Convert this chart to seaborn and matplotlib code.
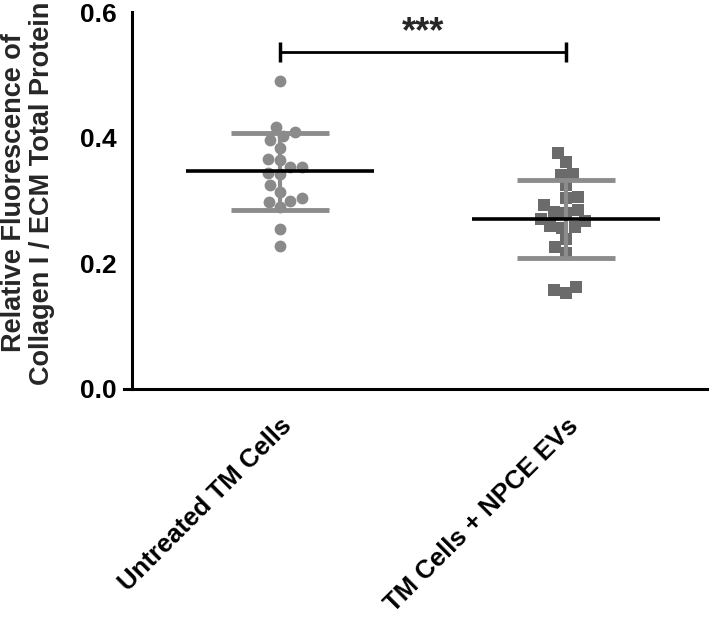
import numpy as np
import pandas as pd
import matplotlib
matplotlib.use("Agg")
import matplotlib.pyplot as plt
import seaborn as sns

categories = ["Untreated TM Cells", "TM Cells + NPCE EVs"]
untreated = [0.490, 0.417, 0.409, 0.402, 0.396, 0.384, 0.364, 0.366, 0.353, 0.353,
             0.343, 0.342, 0.324, 0.313, 0.304, 0.297, 0.299, 0.289, 0.255, 0.228]
treated = [0.375, 0.361, 0.342, 0.341, 0.324, 0.306, 0.304, 0.293, 0.285, 0.280,
           0.281, 0.271, 0.268, 0.259, 0.256, 0.258, 0.238, 0.226, 0.216, 0.162,
           0.152, 0.158]
yticks = [0.0, 0.2, 0.4, 0.6]
ylabel = "Relative Fluorescence of\nCollagen I / ECM Total Protein"
sig_label = "***"

sns.set_style("white")
plt.rcParams['font.family'] = ['Liberation Sans', 'DejaVu Sans']
plt.rcParams['font.weight'] = 'bold'

df = pd.DataFrame({
    "group": [categories[0]] * len(untreated) + [categories[1]] * len(treated),
    "value": untreated + treated,
})

fig = plt.figure(figsize=(7.09, 6.28), dpi=100)
ax = fig.add_axes([124 / 709, (628 - 389) / 628, 1 - 124 / 709, (389 - 12) / 628])

sns.swarmplot(data=df[df.group == categories[0]], x="group", y="value", order=categories,
              marker="o", color="#8a8a8a", size=8.5, ax=ax, zorder=2)
sns.swarmplot(data=df[df.group == categories[1]], x="group", y="value", order=categories,
              marker="s", color="#6b6b6b", size=8.5, ax=ax, zorder=2)

for i, vals in enumerate([untreated, treated]):
    m = np.mean(vals)
    s = np.std(vals, ddof=1)
    ax.vlines(i, m - s, m + s, color="#8c8c8c", lw=3, zorder=3)
    ax.hlines([m - s, m + s], i - 0.17, i + 0.17, color="#8c8c8c", lw=3.5, zorder=3)
    ax.hlines(m, i - 0.33, i + 0.33, color="black", lw=2.6, zorder=4)

# significance bracket
yb = 0.537
ax.plot([0, 1], [yb, yb], color="black", lw=2, clip_on=False)
ax.vlines([0, 1], yb - 0.016, yb + 0.016, color="black", lw=2.5, clip_on=False)
ax.text(0.5, yb + 0.002, sig_label, ha="center", va="bottom", fontsize=26, fontweight="bold")

ax.set_xlim(-0.545, 1.5)
ax.set_ylim(0, 0.6)
ax.set_yticks(yticks)
ax.set_yticklabels([f"{t:.1f}" for t in yticks])
ax.set_xticks([0, 1])
ax.set_xticklabels(categories, rotation=45, ha="right", rotation_mode="anchor")
ax.set_xlabel("")
ax.set_ylabel(ylabel, fontsize=19.5, fontweight="bold", linespacing=1.1)
ax.yaxis.set_label_coords(-0.118, 0.52)

for side in ["top", "right"]:
    ax.spines[side].set_visible(False)
ax.spines["left"].set_position(("data", -0.517))
ax.spines["left"].set_linewidth(2.2)
ax.spines["bottom"].set_linewidth(2.2)
ax.spines["left"].set_color("black")
ax.spines["bottom"].set_color("black")
ax.tick_params(axis="y", direction="out", length=7, width=2.2, colors="black", pad=4,
               labelsize=19)
ax.tick_params(axis="x", direction="out", length=8, width=2.2, colors="black", pad=10,
               labelsize=18.5)
for lab in ax.get_xticklabels() + ax.get_yticklabels():
    lab.set_fontweight("bold")

fig.savefig("out.png", dpi=100)
